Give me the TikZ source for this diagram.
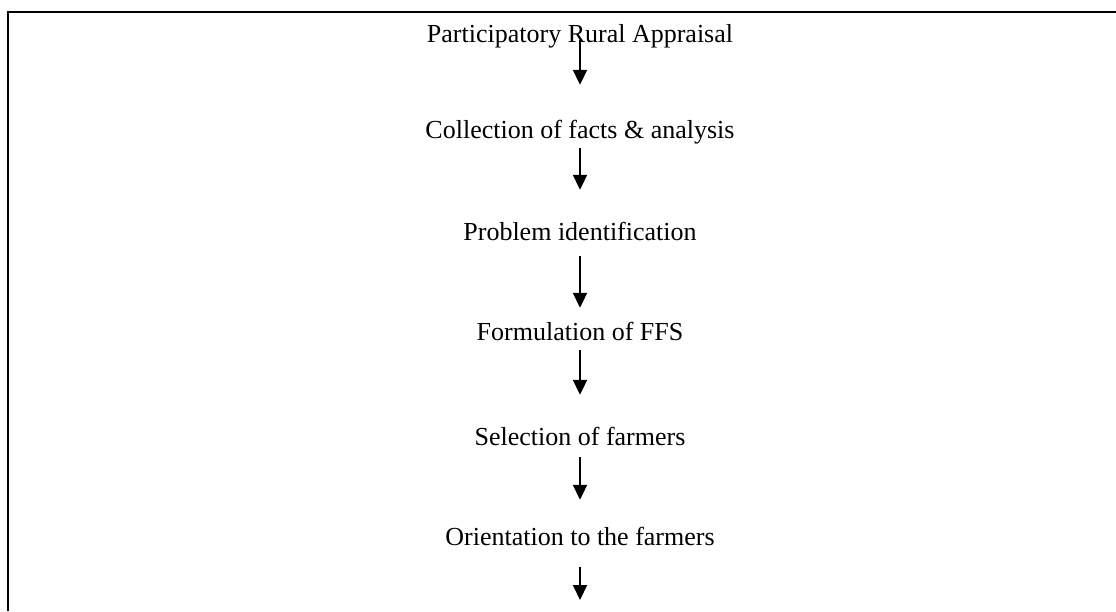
\documentclass[tikz,border=0pt]{standalone}
\usepackage{fontspec}
\setmainfont{Liberation Serif}
\usetikzlibrary{arrows.meta}

\tikzset{
    step box/.style={inner sep=0pt, anchor=base, text height=18pt, text depth=0pt,
        font=\fontsize{26}{30}\selectfont},
    flow/.style={line width=2pt, -{Triangle[width=14pt,length=15pt]}}
}

\begin{document}
\begin{tikzpicture}[x=1pt, y=-1pt]
    \useasboundingbox (0,0) rectangle (1116,611);

    % Frame (open at the bottom)
    \draw[line width=2pt] (8,611) -- (8,12) -- (1116,12);

    % Steps
    \node[step box] (pra)    at (580,42)  {Participatory Rural Appraisal};
    \node[step box] (facts)  at (580,138) {Collection of facts \& analysis};
    \node[step box] (prob)   at (580,240) {Problem identification};
    \node[step box] (ffs)    at (580,340) {Formulation of FFS};
    \node[step box] (sel)    at (580,445) {Selection of farmers};
    \node[step box] (orient) at (580,545) {Orientation to the farmers};
    \coordinate (next) at (580,600);

    % Arrows between the steps
    \draw[flow, shorten <=-2pt, shorten >=35pt] (pra) -- (facts);
    \draw[flow, shorten <=10pt, shorten >=32pt] (facts) -- (prob);
    \draw[flow, shorten <=16pt, shorten >=14pt] (prob) -- (ffs);
    \draw[flow, shorten <=10pt, shorten >=32pt] (ffs) -- (sel);
    \draw[flow, shorten <=12pt, shorten >=27pt] (sel) -- (orient);
    \draw[flow, shorten <=22pt] (orient) -- (next);
\end{tikzpicture}
\end{document}
